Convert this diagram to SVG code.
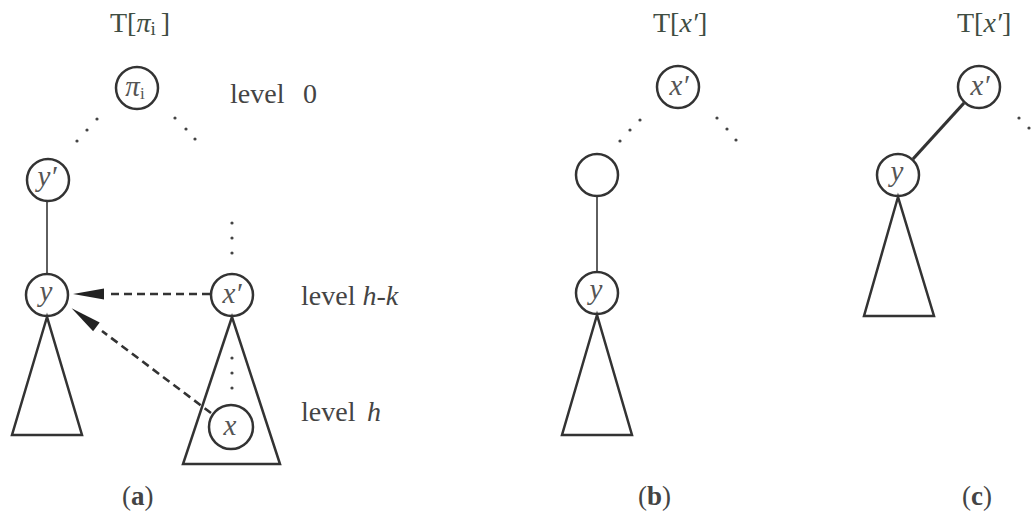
<svg xmlns="http://www.w3.org/2000/svg" width="1034" height="520" viewBox="0 0 1034 520">
<style>
.n{fill:#fff;stroke:#333;stroke-width:2.5}
.tri{fill:none;stroke:#333;stroke-width:2.5;stroke-linejoin:miter}
.e{stroke:#444;stroke-width:1.7;fill:none}
.ek{stroke:#333;stroke-width:3.2;fill:none}
.d{stroke:#333;stroke-width:2.6;stroke-dasharray:8 5;fill:none}
.dot{fill:#444}
.lab{font-family:"Liberation Serif",serif;font-style:italic;font-size:29px;fill:#555;text-anchor:middle}
.t{font-family:"Liberation Serif",serif;font-size:28px;fill:#444}
.ti{font-family:"Liberation Serif",serif;font-size:28px;fill:#3f4d42}
.p{font-family:"Liberation Serif",serif;font-size:27px;fill:#444}
</style>
<defs>
<marker id="ah" markerWidth="40" markerHeight="14" refX="0" refY="6" orient="auto" markerUnits="userSpaceOnUse">
<path d="M7,0.5 L38,6 L7,11.5 Z" fill="#222"/>
</marker>
</defs>

<!-- titles -->
<text class="ti" x="110" y="32">T[<tspan font-style="italic">π</tspan><tspan font-size="19" dy="3">i</tspan><tspan dy="-3" dx="5">]</tspan></text>
<text class="ti" x="653" y="32">T[<tspan font-style="italic">x′</tspan>]</text>
<text class="ti" x="957" y="32">T[<tspan font-style="italic">x′</tspan>]</text>

<!-- level labels -->
<text class="t" x="230" y="103">level</text><text class="t" x="303" y="103">0</text>
<text class="t" x="301" y="305">level <tspan font-style="italic">h-k</tspan></text>
<text class="t" x="301" y="421">level</text><text class="t" x="367" y="421" font-style="italic">h</text>

<!-- panel labels -->
<text class="p" x="122" y="505">(<tspan font-weight="bold">a</tspan>)</text>
<text class="p" x="638" y="505">(<tspan font-weight="bold">b</tspan>)</text>
<text class="p" x="962" y="505">(<tspan font-weight="bold">c</tspan>)</text>

<!-- dots -->
<g id="dots">
<circle class="dot" cx="97" cy="119" r="1.6"/><circle class="dot" cx="87" cy="130" r="1.6"/><circle class="dot" cx="77" cy="141" r="1.6"/>
<circle class="dot" cx="175" cy="118" r="1.6"/><circle class="dot" cx="186" cy="129" r="1.6"/><circle class="dot" cx="195" cy="139" r="1.6"/>
<circle class="dot" cx="232" cy="223" r="1.6"/><circle class="dot" cx="232" cy="238" r="1.6"/><circle class="dot" cx="232" cy="253" r="1.6"/>
<circle class="dot" cx="232" cy="358" r="1.6"/><circle class="dot" cx="232" cy="373" r="1.6"/><circle class="dot" cx="232" cy="388" r="1.6"/>
<circle class="dot" cx="640" cy="120" r="1.6"/><circle class="dot" cx="630" cy="130" r="1.6"/><circle class="dot" cx="620" cy="141" r="1.6"/>
<circle class="dot" cx="717" cy="118" r="1.6"/><circle class="dot" cx="727" cy="129" r="1.6"/><circle class="dot" cx="736" cy="140" r="1.6"/>
<circle class="dot" cx="1019" cy="118" r="1.6"/><circle class="dot" cx="1029" cy="128" r="1.6"/>
</g>

<!-- connectors -->
<g id="connectors">
<line class="e" x1="47" y1="202" x2="47" y2="273"/>
<line class="e" x1="597" y1="197" x2="597" y2="271"/>
<line class="ek" x1="964" y1="103" x2="913" y2="159"/>
<line class="d" x1="210" y1="294" x2="111" y2="294" marker-end="url(#ah)"/>
<line class="d" x1="211" y1="413" x2="102" y2="331" marker-end="url(#ah)"/>
</g>

<!-- panel a -->
<g id="node-pi"><circle class="n" cx="137" cy="88" r="21"/><text class="lab" x="135" y="96" font-size="25">π<tspan font-style="normal" font-size="17" dy="3">i</tspan></text></g>
<g id="node-yp"><circle class="n" cx="48" cy="180" r="21"/><text class="lab" x="47" y="186">y′</text></g>
<g id="node-y-a"><circle class="n" cx="47" cy="295" r="21"/><text class="lab" x="46" y="301">y</text></g>
<g id="tri-y-a"><polygon class="tri" points="47,317 12,435 82,435"/></g>
<g id="node-xp-a"><circle class="n" cx="232" cy="295" r="21"/><text class="lab" x="232" y="303">x′</text></g>
<g id="tri-xp-a"><polygon class="tri" points="232,317 183,464 280,464"/></g>
<g id="node-x"><circle class="n" cx="231" cy="427" r="22"/><text class="lab" x="230" y="435">x</text></g>

<!-- panel b -->
<g id="node-xp-b"><circle class="n" cx="678" cy="87" r="21"/><text class="lab" x="679" y="95">x′</text></g>
<g id="node-empty-b"><circle class="n" cx="597" cy="175" r="21"/></g>
<g id="node-y-b"><circle class="n" cx="597" cy="293" r="21"/><text class="lab" x="596" y="299">y</text></g>
<g id="tri-y-b"><polygon class="tri" points="597,315 562,435 632,435"/></g>

<!-- panel c -->
<g id="node-xp-c"><circle class="n" cx="979" cy="87" r="21"/><text class="lab" x="980" y="95">x′</text></g>
<g id="node-y-c"><circle class="n" cx="898" cy="175" r="21"/><text class="lab" x="897" y="181">y</text></g>
<g id="tri-y-c"><polygon class="tri" points="898,197 864,316 934,316"/></g>
</svg>
